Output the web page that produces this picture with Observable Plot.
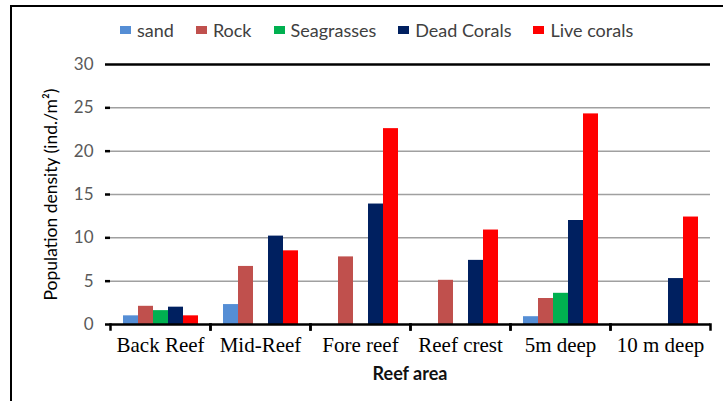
<!DOCTYPE html>
<html>
<head>
<meta charset="utf-8">
<script src="https://cdn.jsdelivr.net/npm/d3@7"></script>
<script src="https://cdn.jsdelivr.net/npm/@observablehq/plot@0.6"></script>
<style>
  html, body { margin: 0; padding: 0; background: #fff; }
  body { width: 723px; height: 401px; overflow: hidden; position: relative; font-family: Lato, "Open Sans", sans-serif; }
  #legend { height: 50px; box-sizing: border-box; padding-top: 20px; padding-left: 120px; display: flex; gap: 22px; align-items: flex-start; }
  #legend .item { display: flex; align-items: center; gap: 6px; font-size: 18px; line-height: 20px; color: #404040; height: 20px; }
  #legend .sw { width: 11px; height: 8px; display: inline-block; }
  #chart svg { display: block; background: transparent !important; }
  #caption { margin-top: 2px; margin-left: 109px; width: 602px; text-align: center; font-weight: bold; font-size: 18px; line-height: 22px; color: #111; }
  #outer { position: absolute; left: 10px; top: 5px; width: 800px; height: 600px; border-left: 2px solid #000; border-top: 2px solid #000; pointer-events: none; }
</style>
</head>
<body>
<div id="legend"></div>
<div id="chart"></div>
<div id="caption">Reef area</div>
<div id="outer"></div>
<script>
// ---- data ----
const areas = ["Back Reef", "Mid-Reef", "Fore reef", "Reef crest", "5m deep", "10 m deep"];
const series = ["sand", "Rock", "Seagrasses", "Dead Corals", "Live corals"];
const colors = ["#558ED5", "#C0504D", "#00B050", "#002060", "#FF0000"];
const sand       = [1.0, 2.3, 0,    0,    0.9,  0];
const rock       = [2.1, 6.7, 7.8,  5.1,  3.0,  0];
const seagrasses = [1.6, 0,   0,    0,    3.6,  0];
const deadCorals = [2.0, 10.2, 13.9, 7.4, 12.0, 5.3];
const liveCorals = [1.0, 8.5, 22.6, 10.9, 24.3, 12.4];
const yTicks = [0, 5, 10, 15, 20, 25, 30];
const yLabel = "Population density (ind./m²)";
const xLabel = "Reef area";

const seriesValues = [sand, rock, seagrasses, deadCorals, liveCorals];
const rows = [];
series.forEach((s, j) => {
  areas.forEach((a, i) => {
    const v = seriesValues[j][i];
    if (v > 0) rows.push({area: a, series: s, value: v});
  });
});

// legend
const legend = document.getElementById("legend");
series.forEach((s, j) => {
  const it = document.createElement("div");
  it.className = "item";
  const sw = document.createElement("span");
  sw.className = "sw";
  sw.style.background = colors[j];
  it.appendChild(sw);
  it.appendChild(document.createTextNode(s));
  legend.appendChild(it);
});
document.getElementById("caption").textContent = xLabel;

const W = 723, H = 310, mT = 14, mB = 36, mL = 109, mR = 12;
const plotH = H - mT - mB;

const chart = Plot.plot({
  width: W,
  height: H,
  marginTop: mT,
  marginBottom: mB,
  marginLeft: mL,
  marginRight: mR,
  style: {background: "transparent"},
  fx: {domain: areas, padding: 0, label: null},
  x: {domain: series, paddingInner: 0, paddingOuter: 0.755, label: null},
  y: {domain: [0, 30], label: null},
  color: {domain: series, range: colors},
  marks: [
    Plot.gridY(yTicks.slice(1, -1), {stroke: "#a0a0a0", strokeOpacity: 1, strokeWidth: 1.5}),
    Plot.barY(rows, {fx: "area", x: "series", y: "value", fill: "series"}),
    Plot.ruleY([yTicks[0]], {stroke: "#000", strokeWidth: 2.5}),
    Plot.ruleY([yTicks[yTicks.length - 1]], {stroke: "#000", strokeWidth: 2.5}),
    Plot.axisY(yTicks, {anchor: "left", tickSize: 5, tickPadding: 12, line: true, stroke: "#000", strokeWidth: 2.5, fill: "#595959", fontSize: 17, fontFamily: "Lato", label: null}),
    Plot.axisY([], {anchor: "left", tickSize: 0, label: yLabel, labelAnchor: "center", labelArrow: "none", labelOffset: 66, fontSize: 17.5, fontFamily: "Lato", fill: "#000"}),
    Plot.axisY([], {anchor: "right", tickSize: 0, line: true, stroke: "#000", strokeWidth: 2.5, label: null}),
    Plot.axisX([], {anchor: "bottom", tickSize: 0, label: null}),
    Plot.axisFx({anchor: "bottom", tickSize: 0, tickPadding: 13, fontSize: 21, fontFamily: "Liberation Serif", fill: "#000", label: null}),
    Plot.frame({anchor: "left", insetTop: plotH, insetBottom: -5, stroke: "#000", strokeWidth: 2.5}),
    Plot.frame({anchor: "right", insetTop: plotH, insetBottom: -5, stroke: "#000", strokeWidth: 2.5})
  ]
});
document.getElementById("chart").appendChild(chart);
</script>
</body>
</html>
